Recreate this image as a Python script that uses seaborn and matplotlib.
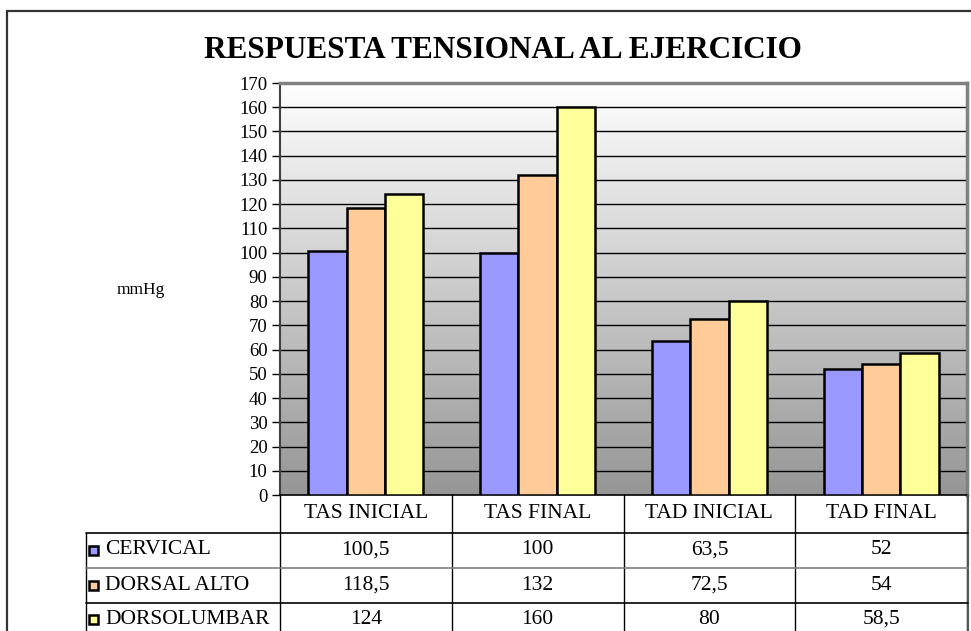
import numpy as np
import pandas as pd
import matplotlib
matplotlib.use("Agg")
import matplotlib.pyplot as plt
import matplotlib.transforms as mtrans
from matplotlib.patches import Rectangle
from matplotlib.lines import Line2D
import seaborn as sns

# ---- data ----
categories = ["TAS INICIAL", "TAS FINAL", "TAD INICIAL", "TAD FINAL"]
series_names = ["CERVICAL", "DORSAL ALTO", "DORSOLUMBAR"]
cervical = [100.5, 100, 63.5, 52]
dorsal_alto = [118.5, 132, 72.5, 54]
dorsolumbar = [124, 160, 80, 58.5]
table_text = [["100,5", "100", "63,5", "52"],
              ["118,5", "132", "72,5", "54"],
              ["124", "160", "80", "58,5"]]
colors = ["#9999FF", "#FFCC99", "#FFFF99"]
yticks = list(range(0, 171, 10))
title = "RESPUESTA TENSIONAL AL EJERCICIO"
ylabel = "mmHg"

sns.set_theme(style="white")
plt.rcParams["font.family"] = ["Liberation Serif", "DejaVu Serif"]
plt.rcParams["text.color"] = "black"
plt.rcParams["ytick.color"] = "black"
plt.rcParams["ytick.labelcolor"] = "black"

df = pd.DataFrame({
    "cat": np.repeat(categories, 3).tolist(),
    "series": series_names * 4,
    "value": [v for trio in zip(cervical, dorsal_alto, dorsolumbar) for v in trio],
})

W, H = 971, 631
fig = plt.figure(figsize=(W / 100, H / 100), dpi=100)
fig.patch.set_facecolor("white")

def fx(px):
    return px / W

def fy(py):
    return 1 - py / H

L, R, T, B = 280, 967, 83, 495
ax = fig.add_axes([fx(L), fy(B), fx(R) - fx(L), fy(T) - fy(B)])

# gradient background
grad = np.linspace(1.0, 0.0, 256).reshape(-1, 1)
cmap = matplotlib.colors.LinearSegmentedColormap.from_list("g", ["#969696", "#FFFFFF"])
ax.imshow(grad, cmap=cmap, aspect="auto", extent=[-0.5, 3.5, 0, 170],
          origin="upper", zorder=0, vmin=0, vmax=1)

sns.barplot(data=df, x="cat", y="value", hue="series", order=categories,
            hue_order=series_names, palette=colors, width=0.67, gap=0,
            edgecolor="black", linewidth=1.8, saturation=1, ax=ax,
            legend=False, zorder=3)

ax.set_xlim(-0.5, 3.5)
ax.set_ylim(0, 170)
ax.set_yticks(yticks)
ax.set_yticklabels([str(t) for t in yticks], fontsize=13.5)
ax.set_xticks([])
ax.set_xlabel("")
ax.set_ylabel("")
for t in yticks[1:-1]:
    ax.axhline(t, color="black", lw=1.0, zorder=1)
ax.tick_params(axis="y", direction="out", length=6, width=1, color="black", pad=3,
               left=True)
for s in ["top", "right"]:
    ax.spines[s].set_color("#808080")
    ax.spines[s].set_linewidth(2.5)
ax.spines["left"].set_color("#404040")
ax.spines["left"].set_linewidth(1.5)
ax.spines["bottom"].set_color("black")
ax.spines["bottom"].set_linewidth(1.2)

fig.text(fx(503), fy(50), title, fontsize=22.5, fontweight="bold",
         ha="center", va="center", color="black")
fig.text(fx(141), fy(290), ylabel, fontsize=12.5, ha="center", va="center")

# outer border
fig.add_artist(Line2D([fx(7), fx(7)], [fy(11), 0], color="#333333", lw=1.6,
                      transform=fig.transFigure))
fig.add_artist(Line2D([fx(7), 1], [fy(11), fy(11)], color="#333333", lw=1.6,
                      transform=fig.transFigure))

# data table
blend = mtrans.blended_transform_factory(ax.transData, fig.transFigure)
row_edges = [495, 533, 568, 603, 640]
TL = 86
for i in range(5):
    xb = i - 0.5
    fig.add_artist(Line2D([xb, xb], [fy(495), fy(640)], color="black", lw=1.0,
                          transform=blend))
fig.add_artist(Line2D([fx(TL), fx(TL)], [fy(533), fy(640)], color="black", lw=1.0,
                      transform=fig.transFigure))
fig.add_artist(Line2D([fx(R + 1), fx(R + 1)], [fy(495), fy(640)], color="#555555",
                      lw=1.5, transform=fig.transFigure))
for k, yy in enumerate(row_edges[1:4]):
    c = "#808080" if k == 1 else "black"
    fig.add_artist(Line2D([fx(TL), fx(R + 1)], [fy(yy), fy(yy)], color=c, lw=1.2,
                          transform=fig.transFigure))
for i, cat in enumerate(categories):
    fig.text(i, fy(513), cat, transform=blend, ha="center", va="center", fontsize=15.5)
row_centres = [550, 585, 619]
for r, name in enumerate(series_names):
    yc = row_centres[r]
    fig.add_artist(Rectangle((fx(89), fy(yc + 5)), fx(8.5), 9 / H,
                             facecolor=colors[r], edgecolor="black", lw=1.8,
                             transform=fig.transFigure))
    fig.text(fx(105), fy(yc), name, ha="left", va="center", fontsize=15.5)
    for i in range(4):
        fig.text(i, fy(yc), table_text[r][i], transform=blend, ha="center",
                 va="center", fontsize=15.5)

fig.savefig("out.png", dpi=100)
